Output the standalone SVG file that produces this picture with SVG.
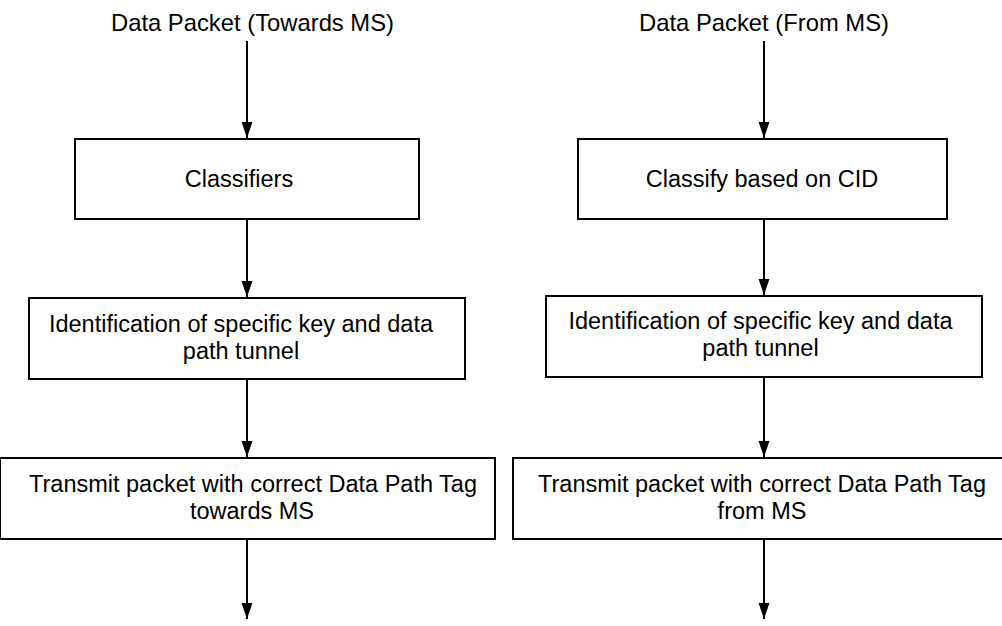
<svg xmlns="http://www.w3.org/2000/svg" width="1002" height="626" viewBox="0 0 1002 626">
<style>
.box{fill:#fff;stroke:#000;stroke-width:2}
.t{font-family:"Liberation Sans",Arial,sans-serif;font-size:23.5px;fill:#000;text-anchor:middle}
.h{font-size:23.8px}
.c{stroke:#000;stroke-width:2;fill:none;marker-end:url(#ah)}
</style>
<defs>
<marker id="ah" markerUnits="userSpaceOnUse" markerWidth="16" markerHeight="24" refX="22" refY="7.5" orient="auto" viewBox="0 0 22 15">
<path d="M0,0 L22,7.5 L0,15 Z" fill="#000"/>
</marker>
</defs>
<rect width="1002" height="626" fill="#fff"/>
<g id="connectors">
<line class="c" x1="247" y1="41" x2="247" y2="138"/>
<line class="c" x1="247" y1="220" x2="247" y2="297"/>
<line class="c" x1="247" y1="380" x2="247" y2="457"/>
<line class="c" x1="247" y1="540" x2="247" y2="619"/>
<line class="c" x1="764" y1="41" x2="764" y2="138"/>
<line class="c" x1="764" y1="220" x2="764" y2="295"/>
<line class="c" x1="764" y1="378" x2="764" y2="457"/>
<line class="c" x1="764" y1="540" x2="764" y2="619"/>
</g>
<g id="title-left"><text class="t h" x="252.5" y="31">Data Packet (Towards MS)</text></g>
<g id="title-right"><text class="t h" x="764" y="31">Data Packet (From MS)</text></g>
<g id="classifiers">
<rect class="box" x="75" y="139" width="344" height="80"/>
<text class="t" x="239" y="187">Classifiers</text>
</g>
<g id="classify-cid">
<rect class="box" x="578" y="139" width="369" height="80"/>
<text class="t" x="762" y="187">Classify based on CID</text>
</g>
<g id="ident-left">
<rect class="box" x="29" y="298" width="436" height="81"/>
<text class="t" x="241" y="332">Identification of specific key and data</text>
<text class="t" x="241" y="359">path tunnel</text>
</g>
<g id="ident-right">
<rect class="box" x="546" y="296" width="436" height="81"/>
<text class="t" x="760.5" y="329">Identification of specific key and data</text>
<text class="t" x="760.5" y="356">path tunnel</text>
</g>
<g id="transmit-left">
<rect class="box" x="0" y="458" width="495" height="81"/>
<text class="t" x="253" y="492">Transmit packet with correct Data Path Tag</text>
<text class="t" x="252" y="519">towards MS</text>
</g>
<g id="transmit-right">
<rect class="box" x="513" y="458" width="500" height="81"/>
<text class="t" x="762" y="492">Transmit packet with correct Data Path Tag</text>
<text class="t" x="762" y="519">from MS</text>
</g>
</svg>
